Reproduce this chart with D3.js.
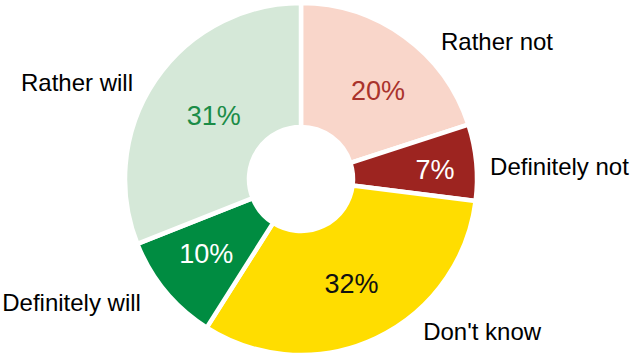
<!DOCTYPE html>
<html>
<head>
<meta charset="utf-8">
<script src="https://cdn.jsdelivr.net/npm/d3@7"></script>
<style>
  html, body { margin: 0; padding: 0; background: #fff; }
  svg { display: block; }
</style>
</head>
<body>
<svg id="chart" width="635" height="361"></svg>
<script>
// Survey answers, clockwise from 12 o'clock
const categories = ["Rather not", "Definitely not", "Don't know", "Definitely will", "Rather will"];
const values = [20, 7, 32, 10, 31];
const sliceColors = ["#f9d6ca", "#9d2420", "#ffdd00", "#008c41", "#d5e8d8"];
const valueColors = ["#a9332c", "#ffffff", "#111111", "#ffffff", "#1b8c47"];

// Small nudges for the labels, relative to their slice
const valueNudge = [[10, 3], [20.5, 0.7], [2, 1], [-7, 1.3], [7, 0]];
const nameNudge = [[22.4, 24], [-10, 6], [37, -29], [-6, -4.5], [-2.6, 15.4]];

const W = 635, H = 361;
const cx = 301, cy = 179;
const outerR = 176, innerR = 52;

const svg = d3.select("#chart");
const g = svg.append("g").attr("transform", `translate(${cx},${cy})`);

const data = categories.map((c, i) => ({ name: c, value: values[i], i }));

const pie = d3.pie().value(d => d.value).sort(null).startAngle(0).endAngle(2 * Math.PI);
const arcs = pie(data);

const arc = d3.arc().innerRadius(innerR).outerRadius(outerR);
const nameArc = d3.arc().innerRadius(200).outerRadius(200);

g.selectAll("path.slice")
  .data(arcs)
  .join("path")
  .attr("class", "slice")
  .attr("d", arc)
  .attr("fill", d => sliceColors[d.data.i])
  .attr("stroke", "#ffffff")
  .attr("stroke-width", 4.5)
  .attr("stroke-linejoin", "miter");

// Percentages inside the ring
g.selectAll("text.value")
  .data(arcs)
  .join("text")
  .attr("class", "value")
  .attr("x", d => arc.centroid(d)[0] + valueNudge[d.data.i][0])
  .attr("y", d => arc.centroid(d)[1] + valueNudge[d.data.i][1])
  .attr("dy", "0.36em")
  .attr("text-anchor", "middle")
  .attr("font-family", "'Liberation Sans', Arial, sans-serif")
  .attr("font-size", 27)
  .attr("fill", d => valueColors[d.data.i])
  .text(d => d.data.value + "%");

// Category names outside the ring
g.selectAll("text.name")
  .data(arcs)
  .join("text")
  .attr("class", "name")
  .attr("x", d => nameArc.centroid(d)[0] + nameNudge[d.data.i][0])
  .attr("y", d => nameArc.centroid(d)[1] + nameNudge[d.data.i][1])
  .attr("dy", "0.36em")
  .attr("text-anchor", d => ((d.startAngle + d.endAngle) / 2 < Math.PI ? "start" : "end"))
  .attr("font-family", "'Liberation Sans', Arial, sans-serif")
  .attr("font-size", 24)
  .attr("fill", "#000")
  .text(d => d.data.name);
</script>
</body>
</html>
